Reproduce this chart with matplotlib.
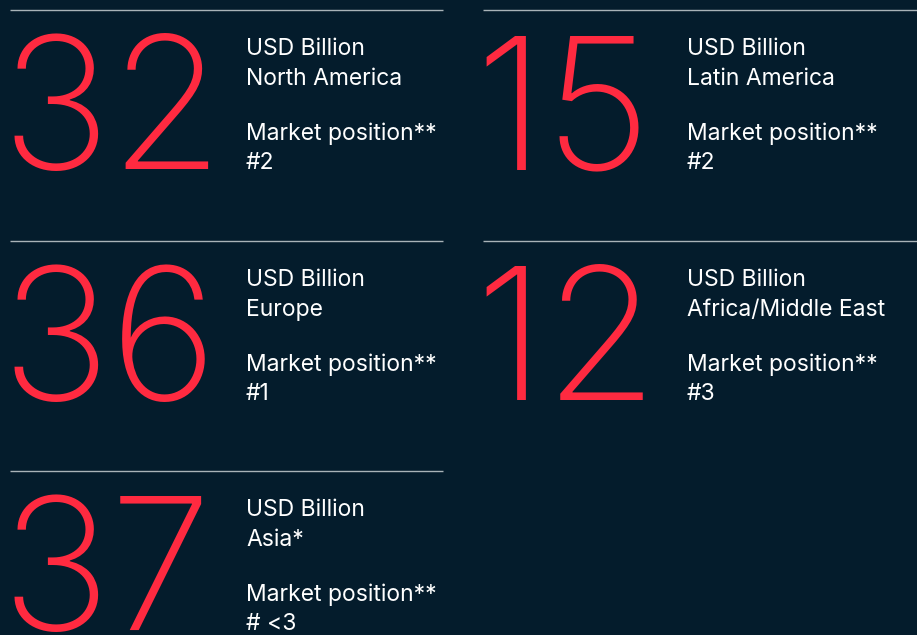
import matplotlib.pyplot as plt

# regional figures
values = ["32", "15", "36", "12", "37"]
regions = ["North America", "Latin America", "Europe", "Africa/Middle East", "Asia*"]
positions = ["#2", "#2", "#1", "#3", "# <3"]
unit = "USD Billion"

BG = "#041c2c"
RED = "#ff2a40"
LINE = "#a9b3b8"

fig = plt.figure(figsize=(9.17, 6.35), dpi=100, facecolor=BG)
ax = fig.add_axes([0, 0, 1, 1])
ax.set_facecolor(BG)
ax.set_xlim(0, 917)
ax.set_ylim(635, 0)
ax.axis("off")

# tile origins (x of rule start/end, y of rule)
cols = [(10, 443), (483, 917)]
rows = [10, 241, 471]

for i, (val, reg, pos) in enumerate(zip(values, regions, positions)):
    c = cols[i % 2]
    r = rows[i // 2]
    ax.plot([c[0], c[1]], [r, r], color=LINE, lw=1.0, solid_capstyle="butt")
    ax.text(c[0] - 9, r + 159, val, color=RED, fontsize=133, family="Inter",
            fontweight=200, va="baseline", ha="left")
    tx = c[0] + 236 if i % 2 == 0 else c[0] + 204
    for dy, s in [(45, unit), (75, reg), (130, "Market position**"), (159, pos)]:
        ax.text(tx, r + dy, s, color="white", fontsize=16.5, family="Inter",
                va="baseline", ha="left")

fig.savefig("out.png", dpi=100, facecolor=BG)
